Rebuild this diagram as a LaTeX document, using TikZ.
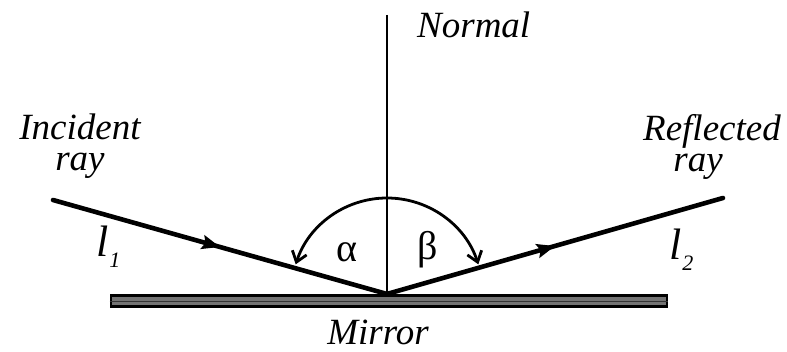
\documentclass[tikz,border=0pt]{standalone}
\usepackage{fontspec}
\newfontfamily\figfont{Liberation Serif}
\usetikzlibrary{arrows.meta,decorations.markings,calc}
\begin{document}
\begin{tikzpicture}[x=1pt,y=1pt,
  lbl/.style={font=\figfont\fontsize{37}{31}\selectfont\itshape, inner sep=0pt},
  greek/.style={font=\figfont\fontsize{40}{42}\selectfont, inner sep=0pt},
  raystyle/.style={line width=4.6pt, line cap=round,
    postaction={decorate},
    decoration={markings, mark=at position 0.5 with {\arrow{Stealth[length=18pt,width=14pt,inset=3pt]}}}},
  normalline/.style={line width=1.8pt},
  anglearc/.style={line width=2.8pt, -{Straight Barb[length=10pt,width=15pt,line width=2.8pt]}},
  mirrorbox/.style={fill=black!55, draw=black, line width=2.6pt}]
\useasboundingbox (0,0) rectangle (787,352);
% coordinates
\coordinate (O) at (387,58);
\coordinate (A) at (53,152);
\coordinate (B) at (723,154);
\coordinate (N) at (387,337);
% mirror
\node[mirrorbox, minimum width=556pt, minimum height=11pt, inner sep=0pt, anchor=north] (mirror) at (389,58) {};
\draw[black!80, line width=1pt] ([yshift=-1pt]mirror.west) -- ([yshift=-1pt]mirror.east);
% normal
\draw[normalline] (N) -- (O);
% rays
\draw[raystyle] (A) -- (O);
\draw[raystyle] (O) -- (B);
% angle arcs
\draw[anglearc] ($(O)+(90:96)$) arc (90:162:96);
\draw[anglearc] ($(O)+(90:96)$) arc (90:18:96);
% labels
\node[lbl, anchor=base west] (normal) at (417,314) {Normal};
\node[lbl, align=center, anchor=north] (inc) at (80,238) {Incident\\[0pt]ray};
\node[lbl, align=right, anchor=north east] (refl) at (781,238) {Reflected\\[0pt]ray\hspace*{58pt}};
\node[lbl, anchor=base] (mirrorlbl) at (378,7) {Mirror};
\node[greek] (alpha) at (347,100) {α};
\node[greek] (beta) at (428,102) {β};
\node[anchor=base west, inner sep=0pt] (l1) at (96,95) {\figfont\fontsize{44}{44}\selectfont\itshape l\kern1pt\raisebox{-11pt}{\fontsize{22}{22}\selectfont 1}};
\node[anchor=base west, inner sep=0pt] (l2) at (669,92) {\figfont\fontsize{44}{44}\selectfont\itshape l\kern1pt\raisebox{-11pt}{\fontsize{22}{22}\selectfont 2}};
\end{tikzpicture}
\end{document}
